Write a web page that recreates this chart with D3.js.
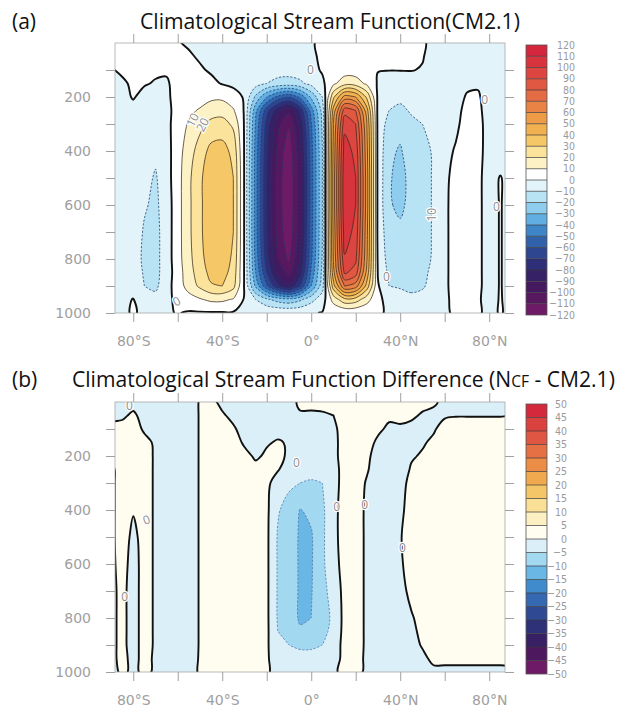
<!DOCTYPE html>
<html>
<head>
<meta charset="utf-8">
<script src="https://d3js.org/d3.v7.min.js"></script>
<style>
  body { margin: 0; background: #fff; }
  svg { display: block; }
  .title { font-family: "Open Sans", "DejaVu Sans", sans-serif; fill: #111; }
  .tick text { font-family: "DejaVu Sans", sans-serif; font-size: 14px; fill: #a0a0a0; }
  .tick line { stroke: #a0a0a0; }
  .cblab { font-family: "Liberation Sans Narrow", "DejaVu Sans Condensed", "DejaVu Sans", sans-serif; font-size: 10.5px; fill: #9a9a9a; }
  .clab { font-family: "Open Sans", sans-serif; font-size: 12px; fill: #8c8c8c; stroke: #fff; stroke-width: 2.5px; paint-order: stroke; }
</style>
</head>
<body>
<svg id="fig" width="631" height="709"></svg>
<script>

// grid the two fields are sampled on
var lats = [-90,-85,-80,-75,-70,-65,-60,-55,-50,-45,-40,-35,-30,-25,-20,-15,-10,-5,0,5,10,15,20,25,30,35,40,45,50,55,60,65,70,75,80,85,90];
var pLevels = [0,50,100,150,200,250,300,400,500,600,700,800,850,900,950,1000];

// colour levels
var levelsA = [-120,-110,-100,-90,-80,-70,-60,-50,-40,-30,-20,-10,0,10,20,30,40,50,60,70,80,90,100,110,120];
var colorsA = ["#6e1a66","#57185f","#45195f","#362066","#2e2f78","#2e4590","#3161aa","#3f86c8","#61afe2","#8fcdee","#b8e3f5","#e2f3fa",
               "#ffffff","#fdf2c6","#fbe39c","#f5c767","#f2b150","#ee9b48","#e98245","#e46c44","#e05742","#dc4540","#d8343e","#d4263c"];
var levelsB = [-50,-45,-40,-35,-30,-25,-20,-15,-10,-5,0,5,10,15,20,25,30,35,40,45,50];
var colorsB = ["#6e1a66","#4e185f","#382065","#2e3078","#2f4a93","#3468b0","#3f8bcb","#6ab6e5","#a3d8f1","#dbeff9",
               "#fffcf0","#fcefc2","#fadf96","#f5c668","#f0a94e","#eb8c47","#e57044","#df5742","#da423f","#d4293c"];

// axis ticks
var latTicks = [-80,-60,-40,-20,0,20,40,60,80];
var latLabels = {"-80":"80°S","-40":"40°S","0":"0°","40":"40°N","80":"80°N"};
var pTicks = [100,200,300,400,500,600,700,800,900,1000];
var pLabels = [200,400,600,800,1000];

// (a) stream function, one vertical profile (pLevels) per latitude
var psiA = [
  [2,2,-0.5,-1.5,-2,-2,-2.5,-3,-3,-3,-3,-3,-3,-3,-2,-1],          // -90
  [2,2,1,-1,-2,-3,-3,-3,-4,-4,-4,-4,-4,-3,-2,-1],                 // -85
  [2,2,2,1,0.5,-2,-3,-4,-5,-5,-5,-5,-5,-4,0.3,0.5],               // -80
  [2,2,1,0.5,-2,-3,-4,-5,-7,-9,-11,-12,-11,-10,-5,-1],            // -75
  [2,2,1,-0.5,-2,-3,-5,-8,-11,-12,-13,-13,-13,-12,-7,-1],         // -70
  [2,2,1,-1,-2,-3,-3,-4,-4,-5,-5,-5,-5,-4,-3,-1],                 // -65
  [0.5,2,3,3,4,4,5,6,6,6,6,6,5,5,3,0.5],                          // -60
  [-1,1,2,3,5,8,11,15,18,18,18,17,16,14,6,-1],                    // -55
  [-2,-1,1,3,6,11,17,25,28,28,28,27,25,22,9,-1],                  // -50
  [-3,-2,-1,2,8,15,23,33,37,37,37,35,33,29,12,-1],                // -45
  [-3,-3,-2,-0.5,8,16,24,34,38,38,38,36,34,30,12,-1],             // -40
  [-3,-3,-3,-2,4,11,18,27,30,30,30,28,26,23,9,-1],                // -35
  [-3,-3,-4,-3,-1,-1,-1,-1,-1,-1,-1,-1,-1,-1,-1,-1],              // -30
  [-4,-4,-4,-6,-22,-37,-41,-44,-45,-45,-45,-43,-40,-32,-10,-1],   // -25
  [-4,-4,-5,-10,-40,-66,-74,-78,-80,-80,-79,-76,-70,-58,-18,-1],  // -20
  [-4,-4,-6,-13,-53,-86,-97,-103,-105,-105,-104,-100,-92,-78,-24,-1], // -15
  [-4,-4,-6,-14,-59,-97,-109,-116,-118,-118,-117,-112,-104,-88,-27,-1], // -10
  [-4,-4,-5,-12,-48,-78,-87,-93,-95,-95,-94,-90,-84,-70,-22,-1],  // -5
  [-1,-2,-3,-7,-28,-45,-51,-54,-55,-55,-54,-52,-48,-40,-13,-1],   // 0
  [2,2,1,-2,-10,-16,-18,-20,-20,-20,-20,-19,-17,-14,-5,0.5],      // 5
  [2,2,3,8,28,44,50,53,55,55,53,51,47,36,14,1],                   // 10
  [2,3,5,16,54,86,97,105,108,108,105,99,92,70,27,1],              // 15
  [2,3,5,15,50,80,90,97,100,100,97,92,85,65,25,1],                // 20
  [2,2,3,8,28,44,50,53,55,55,53,51,47,36,14,1],                   // 25
  [2,2,0.2,-1,-2,-3,-3,-3,-3,-3,-3,-2,-1,1,2,1],                  // 30
  [2,1.5,0.2,-4,-7,-10,-14,-18,-19,-19,-16,-14,-12,-10,-3,-1],    // 35
  [2,1.5,0.3,-5,-8,-12,-17,-21,-23,-22,-18,-15,-13,-11,-6,-1],    // 40
  [2,1.5,0.3,-4,-6,-9,-12,-15,-17,-17,-16,-14,-13,-12,-8,-1],     // 45
  [1,0.5,-0.5,-3,-5,-8,-10,-13,-14,-14,-14,-13,-12,-11,-7,-1],    // 50
  [-2,-3,-4,-5,-6,-7,-8,-9,-9,-9,-9,-9,-8,-7,-4,-1],              // 55
  [-3,-3,-3,-3,-3,-2,-2,-1.5,-1,-1,-1,-1,-1,-1,-1,-0.5],          // 60
  [-3,-3,-3,-2,-2,-1.5,-1,0.5,1.5,2,2,2,2,2,1.5,0.5],             // 65
  [-3,-2,-2,-1,0.5,1.5,2,3,3,3,3,3,3,3,2,0.5],                    // 70
  [-2,-2,-1.5,-0.5,0.5,1,1.5,1.5,1,1,1,1,1,1,0.5,0.5],            // 75
  [-2,-2,-2,-2,-2,-2,-2,-2,-2,-2,-2,-2,-2,-2,-1.5,-1],            // 80
  [-3,-3,-3,-3,-3,-3,-3,-3,0.3,0.3,0.3,0.3,0.3,0.3,0.3,0.3],      // 85
  [-2,-2,-2,-2,-2,-2,-2,-2,-2,-2,-2,-2,-2,-2,-1.5,-1]             // 90
];

// (b) difference NCF - CM2.1
var psiB = [
  [-1,-1,1,1,1,-1,-1,-1,-1,-1,-1,-1,-1,-1,-1,-1],                 // -90
  [-1,-0.5,1,1.5,2,2,2,2,2,1.5,1,1,1,1,1,0.5],                    // -85
  [-1,0.5,1.5,2,2,2,1.5,0.3,-1,-1.5,-1.5,-1.5,-1.5,-1.5,-1,-0.5], // -80
  [-1,-1,-0.5,1,1.5,1.5,1.5,1.5,1.5,1.5,1.5,1.5,1.5,1.5,1,0.5],   // -75
  [-1.5,-1.5,-1.5,-0.5,-0.5,-0.5,-0.5,-0.5,-0.5,-0.5,-0.5,-0.5,-0.5,-0.5,-0.5,-0.3], // -70
  [-2,-2,-2,-2,-2,-2,-2,-2,-2,-2,-2,-2,-2,-2,-2,-1],              // -65
  [-2.5,-2.5,-2.5,-2.5,-2.5,-2.5,-2.5,-2.5,-2.5,-2.5,-2.5,-2.5,-2.5,-2.5,-2,-1], // -60
  [-2,-2,-2,-2,-2,-2,-2,-2,-2,-2,-2,-2,-2,-2,-1.5,-1],            // -55
  [0.3,0.3,0.3,0.3,0.3,0.3,0.3,0.3,0.3,0.3,0.3,0.3,0.3,0.3,0.3,0.3], // -50
  [1,1,1,1.5,2,2,2,2,2,2,2,2,2,2,1.5,1],                          // -45
  [-1,0.5,1.5,2,2,2,2,2,2,2,2,2,2,2,1.5,1],                       // -40
  [-2,-1,0.5,1.5,2,2,2,2,2,2,2,2,2,2,1.5,1],                      // -35
  [-2,-2,-1.5,-0.5,1,2,2,2,2,2,2,2,2,2,1.5,1],                    // -30
  [-2,-2,-2,-1.5,-0.5,1,1.5,2,2,2,2,2,2,1.5,1,0.3],               // -25
  [-2,-2,-1.5,-0.3,0.5,1,1,1,1,1,1,1,1,0.8,0.5,0.2],              // -20
  [-2,-2,-1,0.3,0.8,0.3,-2,-4.5,-5.5,-5.5,-5.5,-5.5,-5,-4,-2,-0.5], // -15
  [-1,-1.5,-1,-0.3,-0.5,-2,-4,-7,-8,-8,-8,-8,-7,-5,-2.5,-0.5],    // -10
  [0.5,-0.3,-1,-1.5,-2,-3,-5,-10.2,-10.5,-10.5,-10.5,-10.5,-9.5,-6,-3,-0.5], // -5
  [0.5,-0.3,-1,-1.5,-2,-3.5,-5.5,-9,-10.5,-10.5,-10.3,-10,-9,-6,-3,-0.5],    // 0
  [0.5,-0.2,-1,-1.5,-2,-4,-5,-6,-6,-6,-6.5,-7,-6.5,-5,-2.5,-0.5], // 5
  [0.5,0,-0.5,-1,-1,-1.5,-1.5,-1,-1,-1.5,-3,-4,-3.5,-2.5,-1.5,-0.3], // 10
  [1,1,1,1.5,1.5,1.5,1.5,1.5,1.5,1.5,1.5,1.5,1.5,1.5,1,0.5],      // 15
  [1,1,1.5,1.5,1.5,1.5,1.5,1.5,1.5,1.5,1.5,1.5,1.5,1.5,1,0.5],    // 20
  [1,1,1,1,0.5,0.3,-0.3,-0.6,-0.6,-0.6,-0.6,-0.6,-0.6,-0.6,-0.5,-0.3], // 25
  [1,1,0.5,-0.5,-1,-1.5,-1.5,-1.5,-1.5,-1.5,-1.5,-1.5,-1.5,-1.5,-1,-0.5], // 30
  [1,0.5,-0.5,-1,-1.5,-1.5,-1.5,-1.5,-1.5,-1.5,-1.5,-1.5,-1.5,-1.5,-1,-0.5], // 35
  [1,0.5,-0.3,-1,-1.5,-1.5,-1.2,-0.8,-0.3,-0.5,-1,-1.5,-1.5,-1.5,-1.5,-0.5], // 40
  [1,0.3,-0.5,-0.8,-0.3,0.3,1,1.5,2,1.5,0.8,-0.3,-0.5,-0.8,-1,-0.5], // 45
  [0.5,-0.2,-0.5,-0.3,0.3,1,1.5,1.5,1.5,1.5,1.5,1,0.5,0.2,-0.5,-0.5], // 50
  [0.3,-0.5,-0.3,0.5,1,1.5,1.5,1.5,1.5,1.5,1.5,1.5,1.5,1,0.5,-0.5], // 55
  [-0.5,-0.3,1,1.5,1.5,1.5,1.5,1.5,1.5,1.5,1.5,1.5,1.5,1,0.5,-0.5], // 60
  [-1,-0.1,1,1.5,1.5,1.5,1.5,1.5,1.5,1.5,1.5,1.5,1.5,1,0.5,-0.5], // 65
  [-1,-0.1,1,1.5,1.5,1.5,1.5,1.5,1.5,1.5,1.5,1.5,1.5,1,0.5,-0.5], // 70
  [-1,-0.1,1,1.5,1.5,1.5,1.5,1.5,1.5,1.5,1.5,1.5,1.5,1,0.5,-0.5], // 75
  [-1,-0.1,1,1.5,1.5,1.5,1.5,1.5,1.5,1.5,1.5,1.5,1.5,1,0.5,-0.5], // 80
  [-1,-0.1,1,1.5,1.5,1.5,1.5,1.5,1.5,1.5,1.5,1.5,1.5,1,0.5,-0.5], // 85
  [-1,-0.1,1,1.5,1.5,1.5,1.5,1.5,1.5,1.5,1.5,1.5,1.5,1,0.5,-0.5]  // 90
];

// contour labels (lat, hPa)
var labelsA = [
  {lat:-0.3, p:100, t:"0", r:0}, {lat:33.8, p:865, t:"0", r:0}, {lat:-60.5, p:957, t:"0", r:-30},
  {lat:78, p:211, t:"0", r:0}, {lat:83.3, p:606, t:"0", r:0},
  {lat:-53.3, p:285, t:"10", r:-62}, {lat:-48.8, p:303, t:"20", r:-62}, {lat:54, p:636, t:"10", r:-90}
];
var labelsB = [
  {lat:-81.7, p:14, t:"0", r:0}, {lat:-83.9, p:722, t:"0", r:0}, {lat:-74, p:437, t:"0", r:-20},
  {lat:-6.6, p:226, t:"0", r:0}, {lat:11.4, p:389, t:"0", r:0}, {lat:24, p:381, t:"0", r:0}, {lat:41, p:541, t:"0", r:0}
];

var svg = d3.select('#fig');
var x = d3.scaleLinear().domain([-88.2, 87.1]).range([115, 505]);

function fitText(sel, target) {
  var len = sel.node().getComputedTextLength();
  var fs = parseFloat(sel.style('font-size'));
  sel.style('font-size', (fs * target / len) + 'px');
}

function drawPanel(o) {
  var g = svg.append('g');
  var y = d3.scaleLinear().domain([0, 1000]).range([o.top, o.top + 270]);
  var nx = lats.length, ny = pLevels.length;

  var values = new Array(nx * ny);
  o.field.forEach(function(col, i) {
    col.forEach(function(v, j) { values[j * nx + i] = v; });
  });

  // grid index -> lat / hPa
  var gi = d3.scaleLinear().domain(d3.range(nx)).range(lats);
  var gj = d3.scaleLinear().domain(d3.range(ny)).range(pLevels);

  var contours = d3.contours().size([nx, ny]).thresholds(o.levels.slice(0, -1))(values);

  var line = d3.line().curve(d3.curveCatmullRomClosed.alpha(0.5));
  function pathOf(geom) {
    var d = '';
    geom.coordinates.forEach(function(poly) {
      poly.forEach(function(ring) {
        var pts = ring.slice(0, -1).map(function(c) {
          return [x(gi(c[0] - 0.5)), y(gj(c[1] - 0.5))];
        });
        if (pts.length > 2) d += line(pts);
      });
    });
    return d;
  }

  var clipId = 'clip' + o.id;
  svg.append('clipPath').attr('id', clipId)
    .append('rect').attr('x', 115).attr('y', o.top).attr('width', 390).attr('height', 270);

  var plot = g.append('g').attr('clip-path', 'url(#' + clipId + ')');

  plot.append('rect').attr('x', 115).attr('y', o.top).attr('width', 390).attr('height', 270)
    .attr('fill', o.colors[0]);

  plot.selectAll('path.fill').data(contours).enter().append('path')
    .attr('class', 'fill')
    .attr('d', function(c) { return pathOf(c); })
    .attr('fill', function(c, k) { return o.colors[k]; })
    .attr('fill-rule', 'evenodd');

  plot.selectAll('path.iso').data(contours.slice(1)).enter().append('path')
    .attr('class', 'iso')
    .attr('d', function(c) { return pathOf(c); })
    .attr('fill', 'none')
    .attr('stroke', function(c) { return c.value == 0 ? '#111' : (c.value < 0 ? o.negColor : '#3b2a18'); })
    .attr('stroke-width', function(c) { return c.value == 0 ? 1.9 : 0.75; })
    .attr('stroke-dasharray', function(c) { return c.value < 0 ? '2.2,1.6' : null; });

  // contour labels
  plot.selectAll('text.clab').data(o.labels).enter().append('text')
    .attr('class', 'clab')
    .attr('text-anchor', 'middle')
    .attr('dy', '0.35em')
    .attr('transform', function(d) { return 'translate(' + x(d.lat) + ',' + y(d.p) + ') rotate(' + d.r + ')'; })
    .text(function(d) { return d.t; });

  // frame
  g.append('rect').attr('x', 115).attr('y', o.top).attr('width', 390).attr('height', 270)
    .attr('fill', 'none').attr('stroke', '#a8a8a8').attr('stroke-width', 0.8);

  // axes
  var axL = g.append('g').attr('transform', 'translate(115,0)')
    .call(d3.axisLeft(y).tickValues(pTicks).tickSize(9).tickPadding(15)
      .tickFormat(function(d) { return pLabels.indexOf(d) >= 0 ? d : ''; }));
  var axR = g.append('g').attr('transform', 'translate(505,0)')
    .call(d3.axisRight(y).tickValues(pTicks).tickSize(9).tickFormat(''));
  var axT = g.append('g').attr('transform', 'translate(0,' + o.top + ')')
    .call(d3.axisTop(x).tickValues(latTicks).tickSize(9).tickFormat(''));
  var axB = g.append('g').attr('transform', 'translate(0,' + (o.top + 270) + ')')
    .call(d3.axisBottom(x).tickValues(latTicks).tickSize(9).tickPadding(14)
      .tickFormat(function(d) { return latLabels[d] || ''; }));
  [axL, axR, axT, axB].forEach(function(a) { a.select('.domain').remove(); });
  g.selectAll('.tick text').attr('fill', null);
  g.selectAll('.tick line').attr('stroke', null);

  // colour bar
  var cy = d3.scaleLinear().domain([o.levels[0], o.levels[o.levels.length - 1]]).range([o.cbBottom, o.cbTop]);
  var cb = g.append('g');
  cb.selectAll('rect.bin').data(o.colors).enter().append('rect')
    .attr('class', 'bin')
    .attr('x', 526).attr('width', 21)
    .attr('y', function(c, k) { return cy(o.levels[k + 1]); })
    .attr('height', function(c, k) { return cy(o.levels[k]) - cy(o.levels[k + 1]); })
    .attr('fill', function(c) { return c; });
  cb.selectAll('line.sep').data(o.levels.slice(1, -1)).enter().append('line')
    .attr('x1', 526).attr('x2', 547)
    .attr('y1', function(v) { return cy(v); }).attr('y2', function(v) { return cy(v); })
    .attr('stroke', '#3a3a3a').attr('stroke-width', 0.7);
  cb.append('rect').attr('x', 526).attr('y', o.cbTop).attr('width', 21).attr('height', o.cbBottom - o.cbTop)
    .attr('fill', 'none').attr('stroke', '#555').attr('stroke-width', 0.8);
  cb.selectAll('text').data(o.levels).enter().append('text')
    .attr('class', 'cblab')
    .attr('x', o.cbLabelX).attr('y', function(v) { return cy(v); })
    .attr('dy', '0.35em').attr('text-anchor', 'end')
    .text(function(v) { return String(v).replace('-', '\u2212'); });

  // titles
  svg.append('text').attr('class', 'title').attr('x', 12).attr('y', o.titleY)
    .style('font-size', '21px').text(o.tag);
  var t = svg.append('text').attr('class', 'title').attr('x', o.titleX).attr('y', o.titleY)
    .style('font-size', '21px');
  o.title(t);
  fitText(t, o.titleW);
}

drawPanel({
  id: 'a', top: 43, field: psiA, levels: levelsA, colors: colorsA, negColor: '#1f3966',
  labels: labelsA, cbTop: 45, cbBottom: 315, cbLabelX: 575,
  tag: '(a)', titleX: 140, titleY: 29, titleW: 380,
  title: function(t) { t.text('Climatological Stream Function(CM2.1)'); }
});

drawPanel({
  id: 'b', top: 402, field: psiB, levels: levelsB, colors: colorsB, negColor: '#4a76a8',
  labels: labelsB, cbTop: 404, cbBottom: 674, cbLabelX: 567,
  tag: '(b)', titleX: 72, titleY: 387, titleW: 543,
  title: function(t) {
    t.append('tspan').text('Climatological Stream Function Difference (N');
    t.append('tspan').style('font-size', '0.74em').text('CF');
    t.append('tspan').text(' - CM2.1)');
  }
});

</script>
</body>
</html>
